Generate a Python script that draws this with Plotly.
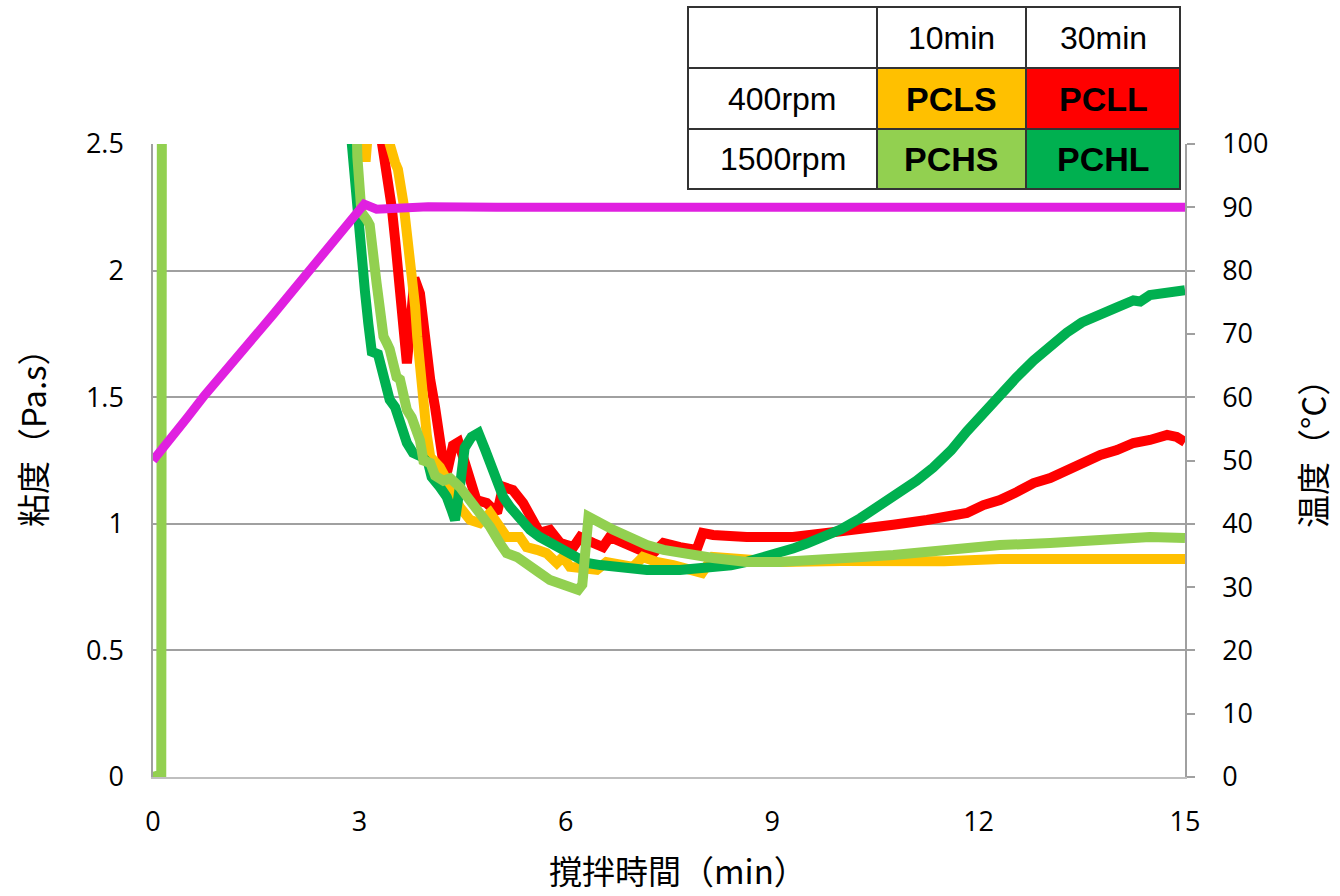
import plotly.graph_objects as go

# ---------------- data ----------------
temp_t = [0, 0.25, 0.5, 0.75, 1.0, 1.25, 1.5, 1.75, 2.0, 2.25, 2.5, 2.75, 2.95, 3.07, 3.25, 3.5, 4, 5, 6, 7, 8, 9, 10, 11, 12, 13, 14, 15]
temp_v = [50, 53.2, 56.8, 60.3, 63.4, 66.9, 70.0, 73.1, 76.4, 79.8, 83.1, 86.6, 89.4, 90.5, 89.7, 89.9, 90.1, 90.0, 89.9, 90.0, 90.0, 90.0, 90.0, 90.0, 89.9, 90.0, 89.9, 90.0]

pcls_t = [0, 3.0, 3.07, 3.09, 3.11, 3.2, 3.4, 3.44, 3.52, 3.56, 3.64, 3.71, 3.77, 3.81, 3.84, 3.88, 3.93, 3.98, 4.03, 4.17, 4.27, 4.46, 4.61, 4.75, 4.90, 5.04, 5.14, 5.33, 5.43, 5.58, 5.72, 5.87, 5.96, 6.06, 6.21, 6.45, 6.59, 6.79, 6.98, 7.12, 7.32, 7.56, 7.85, 7.98, 8.14, 8.63, 9.11, 10.0, 10.86, 11.5, 12.31, 13.77, 14.5, 15]
pcls_v = [6.0, 3.0, 2.5, 2.43, 2.5, 3.5, 2.7, 2.5, 2.425, 2.40, 2.267, 2.12, 1.99, 1.857, 1.74, 1.6, 1.45, 1.35, 1.264, 1.224, 1.173, 1.066, 1.015, 1.003, 1.043, 0.988, 0.948, 0.948, 0.908, 0.897, 0.884, 0.845, 0.869, 0.830, 0.825, 0.818, 0.849, 0.837, 0.830, 0.869, 0.849, 0.837, 0.818, 0.806, 0.869, 0.857, 0.849, 0.853, 0.849, 0.852, 0.861, 0.865, 0.862, 0.861]

pcll_t = [0, 3.2, 3.33, 3.37, 3.42, 3.47, 3.52, 3.56, 3.62, 3.66, 3.69, 3.73, 3.80, 3.88, 3.93, 4.03, 4.10, 4.17, 4.22, 4.29, 4.36, 4.44, 4.51, 4.61, 4.70, 4.85, 5.0, 5.09, 5.23, 5.38, 5.62, 5.77, 5.92, 6.11, 6.21, 6.40, 6.54, 6.64, 6.83, 7.08, 7.27, 7.42, 7.66, 7.90, 7.99, 8.14, 8.63, 9.11, 9.30, 9.79, 10.28, 10.76, 11.25, 11.83, 12.07, 12.31, 12.56, 12.80, 13.04, 13.28, 13.52, 13.77, 14.01, 14.25, 14.49, 14.74, 14.88, 15.0]
pcll_v = [6.0, 3.2, 2.5, 2.437, 2.385, 2.25, 2.12, 1.99, 1.857, 1.74, 1.634, 1.75, 1.97, 1.91, 1.765, 1.568, 1.46, 1.331, 1.24, 1.224, 1.31, 1.323, 1.26, 1.173, 1.094, 1.082, 1.043, 1.146, 1.133, 1.082, 0.964, 0.976, 0.924, 0.908, 0.948, 0.924, 0.908, 0.948, 0.924, 0.897, 0.884, 0.924, 0.908, 0.897, 0.964, 0.956, 0.948, 0.948, 0.948, 0.964, 0.976, 0.996, 1.015, 1.043, 1.074, 1.094, 1.126, 1.161, 1.181, 1.212, 1.240, 1.272, 1.291, 1.319, 1.331, 1.351, 1.343, 1.323]

pchl_t = [0, 2.8, 2.89, 2.94, 2.98, 3.04, 3.08, 3.13, 3.18, 3.27, 3.37, 3.44, 3.52, 3.62, 3.69, 3.78, 3.91, 4.0, 4.05, 4.17, 4.27, 4.34, 4.39, 4.46, 4.53, 4.63, 4.73, 4.83, 4.95, 5.09, 5.19, 5.33, 5.48, 5.62, 5.77, 5.92, 6.11, 6.31, 6.50, 6.69, 7.18, 7.66, 8.14, 8.4, 8.63, 8.9, 9.11, 9.3, 9.5, 9.79, 10.0, 10.28, 10.5, 10.76, 11.10, 11.34, 11.6, 11.83, 12.07, 12.31, 12.55, 12.80, 13.04, 13.28, 13.5, 13.77, 14.01, 14.25, 14.35, 14.49, 14.74, 15.0]
pchl_v = [6.0, 3.2, 2.5, 2.318, 2.19, 2.05, 1.92, 1.79, 1.68, 1.67, 1.57, 1.49, 1.46, 1.37, 1.32, 1.28, 1.264, 1.24, 1.185, 1.145, 1.106, 1.054, 1.015, 1.145, 1.30, 1.343, 1.359, 1.291, 1.20, 1.106, 1.066, 1.015, 0.976, 0.948, 0.924, 0.897, 0.869, 0.845, 0.837, 0.830, 0.818, 0.818, 0.825, 0.836, 0.85, 0.868, 0.885, 0.902, 0.922, 0.95, 0.978, 1.022, 1.06, 1.106, 1.17, 1.222, 1.29, 1.365, 1.438, 1.508, 1.578, 1.645, 1.705, 1.755, 1.795, 1.832, 1.855, 1.882, 1.878, 1.903, 1.915, 1.923]

pchs_t = [0, 0.12, 0.14, 2.9, 2.97, 3.03, 3.11, 3.15, 3.25, 3.35, 3.40, 3.44, 3.54, 3.59, 3.69, 3.76, 3.88, 3.93, 4.03, 4.10, 4.22, 4.32, 4.46, 4.61, 4.75, 4.90, 5.04, 5.14, 5.29, 5.44, 5.62, 5.77, 5.92, 6.06, 6.18, 6.24, 6.33, 6.69, 6.93, 7.18, 7.42, 7.66, 7.90, 8.14, 8.39, 8.63, 9.11, 9.79, 10.3, 10.76, 11.25, 11.73, 12.07, 12.31, 13.04, 13.77, 14.25, 14.49, 15.0]
pchs_v = [0, 0.01, 6.0, 3.2, 2.45, 2.23, 2.2, 2.18, 1.95, 1.74, 1.713, 1.69, 1.58, 1.57, 1.45, 1.42, 1.33, 1.25, 1.24, 1.19, 1.17, 1.18, 1.145, 1.094, 1.043, 0.988, 0.924, 0.884, 0.869, 0.845, 0.806, 0.778, 0.766, 0.75, 0.739, 0.76, 1.028, 0.976, 0.944, 0.916, 0.897, 0.884, 0.877, 0.865, 0.857, 0.849, 0.849, 0.865, 0.869, 0.877, 0.889, 0.904, 0.904, 0.916, 0.924, 0.936, 0.936, 0.948, 0.944]

x_ticks = [0, 3, 6, 9, 12, 15]
y_left_ticks = [0, 0.5, 1, 1.5, 2, 2.5]
y_right_ticks = [0, 10, 20, 30, 40, 50, 60, 70, 80, 90, 100]

table_cols = ["", "10min", "30min"]
table_rows = ["400rpm", "1500rpm"]
table_names = [["PCLS", "PCLL"], ["PCHS", "PCHL"]]
table_colors = [["#ffc000", "#ff0000"], ["#92d050", "#00b050"]]

# ---------------- figure ----------------
W, H = 1340, 896
L, R, T, B = 153, 155, 144, 119
pw, ph = W - L - R, H - T - B

def px2paper(x, y):
    return (x - L) / pw, (H - B - y) / ph

fig = go.Figure()
lw = 10
fig.add_trace(go.Scatter(x=pcll_t, y=pcll_v, mode="lines", line=dict(color="#ff0000", width=lw), name="PCLL"))
fig.add_trace(go.Scatter(x=pcls_t, y=pcls_v, mode="lines", line=dict(color="#ffc000", width=lw), name="PCLS"))
fig.add_trace(go.Scatter(x=pchl_t, y=pchl_v, mode="lines", line=dict(color="#00b050", width=lw), name="PCHL"))
fig.add_trace(go.Scatter(x=pchs_t, y=pchs_v, mode="lines", line=dict(color="#92d050", width=lw), name="PCHS"))
fig.add_trace(go.Scatter(x=temp_t, y=temp_v, mode="lines", line=dict(color="#e020e0", width=9), name="温度", yaxis="y2"))

tickfont = dict(family="Open Sans, DejaVu Sans, sans-serif", size=27, color="#000")

fig.update_layout(
    width=W, height=H,
    margin=dict(l=L, r=R, t=T, b=B),
    paper_bgcolor="white", plot_bgcolor="white",
    showlegend=False,
    xaxis=dict(range=[0, 15], tickvals=x_ticks, showgrid=False, zeroline=False,
               showline=True, linecolor="#bfbfbf", linewidth=2, ticks="",
               tickfont=tickfont, ticklabelstandoff=20),
    yaxis=dict(range=[0, 2.5], tickvals=y_left_ticks, showgrid=True, gridcolor="#a0a0a0", gridwidth=1.5,
               zeroline=False, showline=True, linecolor="#a0a0a0", linewidth=1.5, ticks="",
               tickfont=tickfont, ticklabelstandoff=22),
    yaxis2=dict(range=[0, 100], tickvals=y_right_ticks, overlaying="y", side="right", showgrid=False,
                zeroline=False, showline=True, linecolor="#a0a0a0", linewidth=1.5,
                ticks="outside", ticklen=8, tickcolor="#a0a0a0", tickwidth=1.5,
                tickfont=tickfont, ticklabelstandoff=22),
)

titlefont = dict(family="Noto Sans CJK JP, sans-serif", size=33, color="#000")
x0, y0 = px2paper(678, 870)
fig.add_annotation(text="撹拌時間（min）", x=x0, y=y0, xref="paper", yref="paper", showarrow=False,
                   font=titlefont, xanchor="center", yanchor="middle")
x0, y0 = px2paper(32, 430)
fig.add_annotation(text="粘度（Pa.s）", x=x0, y=y0, xref="paper", yref="paper", showarrow=False,
                   font=titlefont, xanchor="center", yanchor="middle", textangle=-90)
x0, y0 = px2paper(1312, 446)
fig.add_annotation(text="温度（°C）", x=x0, y=y0, xref="paper", yref="paper", showarrow=False,
                   font=titlefont, xanchor="center", yanchor="middle", textangle=-90)

# ---------------- table legend ----------------
col_edges = [688, 877, 1026, 1180]
row_edges = [7, 68, 129, 189]
cellfont = dict(family="Liberation Sans, Arial, sans-serif", size=32, color="#000")
boldfont = dict(family="Liberation Sans, Arial, sans-serif", size=34, color="#000", weight="bold")
for r in range(3):
    for c in range(3):
        if r == 0:
            fill, txt, f = "white", table_cols[c], cellfont
        elif c == 0:
            fill, txt, f = "white", table_rows[r - 1], cellfont
        else:
            fill, txt, f = table_colors[r - 1][c - 1], table_names[r - 1][c - 1], boldfont
        xa, ya = px2paper(col_edges[c], row_edges[r + 1])
        xb, yb = px2paper(col_edges[c + 1], row_edges[r])
        fig.add_shape(type="rect", xref="paper", yref="paper", x0=xa, y0=ya, x1=xb, y1=yb,
                      fillcolor=fill, line=dict(color="#333333", width=2), layer="above")
        if txt:
            fig.add_annotation(text=txt, x=(xa + xb) / 2, y=(ya + yb) / 2, xref="paper", yref="paper",
                               showarrow=False, font=f, xanchor="center", yanchor="middle")

fig.write_html("out.html")
